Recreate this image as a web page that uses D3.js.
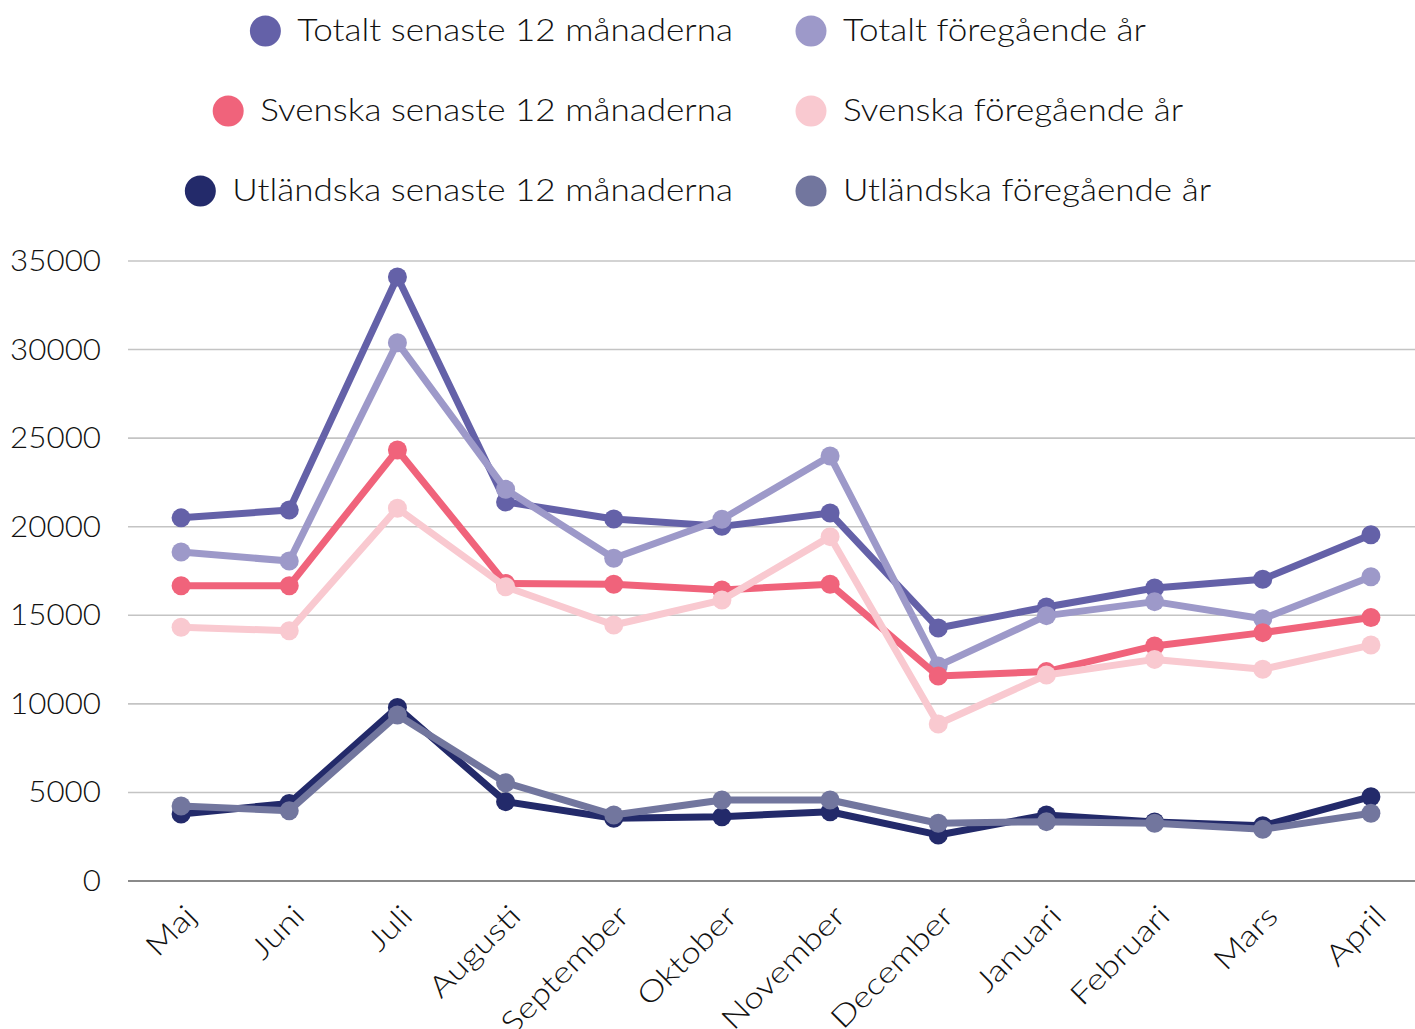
<!DOCTYPE html>
<html><head><meta charset="utf-8">
<script src="https://cdn.jsdelivr.net/npm/d3@7"></script>
<style>body{margin:0;background:#fff}svg{display:block}text{font-family:Lato,"Open Sans",sans-serif;font-weight:300;fill:#111}</style>
</head><body><svg id="c" width="1415" height="1029"></svg>
<script>
const months = ["Maj","Juni","Juli","Augusti","September","Oktober","November","December","Januari","Februari","Mars","April"];
const yTicks = [0,5000,10000,15000,20000,25000,30000,35000];
const totaltSenaste   = [20500,20940,34100,21400,20440,20020,20770,14280,15470,16540,17030,19550];
const totaltForeg     = [18570,18060,30390,22110,18220,20420,23990,12140,14980,15770,14800,17180];
const svenskaSenaste  = [16670,16670,24330,16800,16750,16430,16750,11570,11820,13270,14020,14870];
const svenskaForeg    = [14320,14130,21040,16610,14450,15860,19440,8860,11630,12510,11950,13320];
const utlSenaste      = [3780,4380,9800,4480,3540,3630,3910,2600,3730,3330,3120,4760];
const utlForeg        = [4230,3970,9370,5550,3730,4570,4570,3260,3350,3260,2920,3820];
const seriesNames = ["Totalt senaste 12 månaderna","Totalt föregående år","Svenska senaste 12 månaderna","Svenska föregående år","Utländska senaste 12 månaderna","Utländska föregående år"];
const seriesValues = [totaltSenaste,totaltForeg,svenskaSenaste,svenskaForeg,utlSenaste,utlForeg];
const colors = ["#6461A8","#9D99C9","#F0637B","#F9C9D0","#232A6A","#72769E"];

const svg = d3.select("#c");
const x = d3.scaleBand().domain(months).range([127,1425]);
const y = d3.scaleLinear().domain([0,35000]).range([881,261]);
const cx = d => x(d) + x.bandwidth()/2;

function widen(sel, f){
  sel.each(function(){
    const w = this.getComputedTextLength();
    d3.select(this).attr("textLength", w*f).attr("lengthAdjust","spacingAndGlyphs");
  });
}

// grid
svg.append("g").selectAll("line").data(yTicks).join("line")
  .attr("x1",128).attr("x2",1415).attr("y1",d=>y(d)).attr("y2",d=>y(d))
  .attr("stroke",d=>d===0?"#8a8a8a":"#c4c4c4").attr("stroke-width",d=>d===0?2:1.6);

// y labels
svg.append("g").selectAll("text").data(yTicks).join("text")
  .attr("x",101).attr("y",d=>y(d)).attr("dy","0.35em").attr("text-anchor","end")
  .attr("font-size",28.5).text(d=>d).call(widen,1.1);

// x labels
svg.append("g").selectAll("text").data(months).join("text")
  .attr("text-anchor","end").attr("font-size",29.5)
  .attr("transform",d=>`translate(${cx(d)+17},${918}) rotate(-45)`).text(d=>d).call(widen,1.2);

// lines
const line = d3.line().x((d,i)=>cx(months[i])).y(d=>y(d));
seriesValues.forEach((vals,k)=>{
  const g = svg.append("g");
  g.append("path").datum(vals).attr("d",line).attr("fill","none")
    .attr("stroke",colors[k]).attr("stroke-width",7).attr("stroke-linejoin","round");
  g.selectAll("circle").data(vals).join("circle")
    .attr("cx",(d,i)=>cx(months[i])).attr("cy",d=>y(d)).attr("r",9.5).attr("fill",colors[k]);
});

// legend
const rows=[30,110,190];
for(let r=0;r<3;r++){
  const t = svg.append("text").attr("x",733).attr("y",rows[r]).attr("dy","0.35em")
    .attr("text-anchor","end").attr("font-size",30.5).text(seriesNames[r*2]).call(widen,1.15);
  const w = +t.attr("textLength");
  svg.append("circle").attr("cx",733-w-32).attr("cy",rows[r]+1).attr("r",15.5).attr("fill",colors[r*2]);
  svg.append("circle").attr("cx",811).attr("cy",rows[r]+1).attr("r",15.5).attr("fill",colors[r*2+1]);
  svg.append("text").attr("x",843).attr("y",rows[r]).attr("dy","0.35em")
    .attr("font-size",30.5).text(seriesNames[r*2+1]).call(widen,1.15);
}
</script></body></html>
